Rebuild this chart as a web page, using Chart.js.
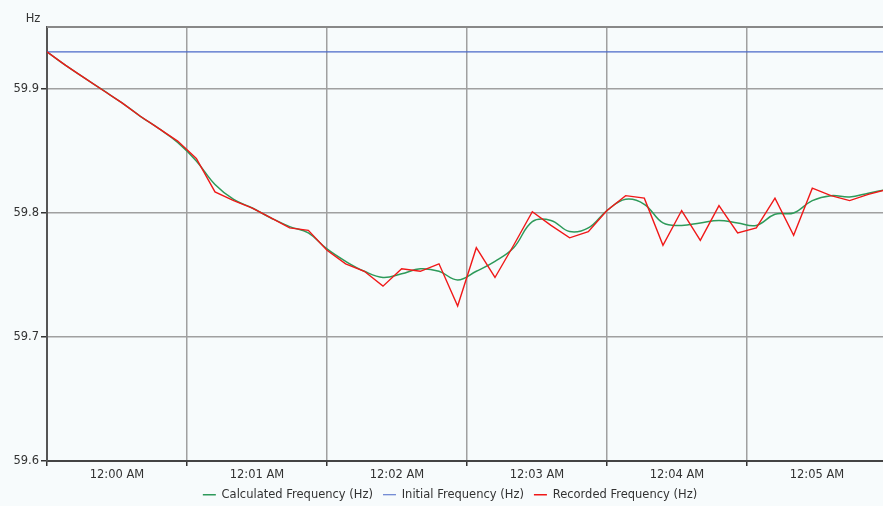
<!DOCTYPE html>
<html>
<head>
<meta charset="utf-8">
<script src="https://cdn.jsdelivr.net/npm/chart.js@4/dist/chart.umd.min.js"></script>
<style>
  html, body { margin: 0; padding: 0; background: #f7fbfc; }
  #wrap { width: 883px; height: 506px; }
</style>
</head>
<body>
<div id="wrap"><canvas id="c" width="883" height="506"></canvas></div>
<script>
// ---- data ----
const seconds = [0, 8, 16, 24, 32, 40, 48, 56, 64, 72, 80, 88, 96, 104, 112, 120,
  128, 136, 144, 152, 160, 168, 176, 184, 192, 200, 208, 216, 224, 232, 240,
  248, 256, 264, 272, 280, 288, 296, 304, 312, 320, 328, 336, 344, 352, 360];

const calculatedHz = [59.930, 59.919, 59.909, 59.899, 59.889, 59.878, 59.868, 59.857,
  59.842, 59.823, 59.811, 59.804, 59.796, 59.789, 59.784, 59.771,
  59.761, 59.753, 59.748, 59.751, 59.755, 59.753, 59.746, 59.753,
  59.761, 59.772, 59.793, 59.794, 59.785, 59.788, 59.802,
  59.811, 59.807, 59.792, 59.790, 59.792, 59.794, 59.792, 59.790,
  59.799, 59.800, 59.810, 59.814, 59.813, 59.816, 59.819];

const recordedHz = [59.930, 59.919, 59.909, 59.899, 59.889, 59.878, 59.868, 59.858,
  59.844, 59.817, 59.810, 59.804, 59.796, 59.788, 59.786, 59.770,
  59.759, 59.753, 59.741, 59.755, 59.753, 59.759, 59.725, 59.772,
  59.748, 59.774, 59.801, 59.790, 59.780, 59.785, 59.802,
  59.814, 59.812, 59.774, 59.802, 59.778, 59.806, 59.784, 59.788,
  59.812, 59.782, 59.820, 59.814, 59.810, 59.815, 59.819];

const initialSeconds = [0, 360];
const initialHz = [59.93, 59.93];

const xTickSeconds = [0, 60, 120, 180, 240, 300];
const xTickLabels = ['12:00 AM', '12:01 AM', '12:02 AM', '12:03 AM', '12:04 AM', '12:05 AM'];
const yTicks = [59.6, 59.7, 59.8, 59.9];
const yMin = 59.6, yMax = 59.95;
const xMin = 0, xMax = 358.3;
const unitLabel = 'Hz';

const seriesNames = ['Calculated Frequency (Hz)', 'Initial Frequency (Hz)', 'Recorded Frequency (Hz)'];

// ---- chart ----
Chart.defaults.font.family = "'DejaVu Sans', Verdana, sans-serif";
Chart.defaults.font.size = 11.5;
Chart.defaults.color = '#333';

const pts = (xs, ys) => xs.map((x, i) => ({ x: x, y: ys[i] }));

const bgPlugin = {
  id: 'bg',
  afterLayout(chart) {
    if (chart.legend) { chart.legend.left += 17; }
  },
  beforeDraw(chart) {
    const ctx = chart.ctx;
    ctx.save();
    ctx.fillStyle = '#f7fbfc';
    ctx.fillRect(0, 0, chart.width, chart.height);
    ctx.restore();
  },
  beforeDatasetsDraw(chart) {
    const ctx = chart.ctx, a = chart.chartArea;
    ctx.save();
    ctx.strokeStyle = '#888';
    ctx.lineWidth = 2;
    ctx.beginPath();
    ctx.moveTo(a.left, a.top);
    ctx.lineTo(a.right, a.top);
    ctx.stroke();
    ctx.fillStyle = '#333';
    ctx.font = "11.5px 'DejaVu Sans', Verdana, sans-serif";
    ctx.textAlign = 'center';
    ctx.textBaseline = 'middle';
    ctx.fillText(unitLabel, 33, 19);
    ctx.restore();
  }
};

new Chart(document.getElementById('c'), {
  type: 'line',
  data: {
    datasets: [
      {
        label: seriesNames[0],
        data: pts(seconds, calculatedHz),
        borderColor: '#2e9a5a',
        backgroundColor: '#2e9a5a',
        borderWidth: 1.5,
        pointRadius: 0,
        tension: 0.4,
        order: 2
      },
      {
        label: seriesNames[1],
        data: pts(initialSeconds, initialHz),
        borderColor: '#4a68c8',
        backgroundColor: '#4a68c8',
        borderWidth: 1.2,
        pointRadius: 0,
        tension: 0,
        order: 1
      },
      {
        label: seriesNames[2],
        data: pts(seconds, recordedHz),
        borderColor: '#f01818',
        backgroundColor: '#f01818',
        borderWidth: 1.4,
        pointRadius: 0,
        tension: 0,
        order: 0
      }
    ]
  },
  options: {
    responsive: false,
    animation: false,
    devicePixelRatio: 1,
    layout: { padding: { top: 27, left: 0, right: 0, bottom: -4.5 } },
    plugins: {
      tooltip: { enabled: false },
      legend: {
        position: 'bottom',
        labels: {
          usePointStyle: true,
          pointStyle: 'line',
          pointStyleWidth: 13,
          boxHeight: 8,
          padding: 10,
          color: '#333',
          font: { size: 11.5 },
          sort: (a, b) => a.datasetIndex - b.datasetIndex
        }
      }
    },
    scales: {
      x: {
        type: 'linear',
        min: xMin,
        max: xMax,
        afterBuildTicks: (s) => { s.ticks = xTickSeconds.map(v => ({ value: v })); },
        afterFit: (s) => { s.height = 18; },
        ticks: {
          autoSkip: false,
          maxRotation: 0,
          labelOffset: 70,
          padding: 2,
          color: '#333',
          callback: (v, i) => xTickLabels[i]
        },
        grid: {
          color: '#a0a0a0',
          lineWidth: 1.5,
          tickLength: 5,
          tickColor: '#333'
        },
        border: { color: '#444', width: 2 }
      },
      y: {
        type: 'linear',
        min: yMin,
        max: yMax,
        afterBuildTicks: (s) => { s.ticks = yTicks.map(v => ({ value: v })); },
        afterFit: (s) => { s.width = 47; },
        ticks: {
          padding: 2,
          color: '#333',
          callback: (v) => v.toFixed(1)
        },
        grid: {
          color: '#a0a0a0',
          lineWidth: 1.5,
          tickLength: 6,
          tickColor: '#333'
        },
        border: { color: '#555', width: 2 }
      }
    }
  },
  plugins: [bgPlugin]
});
</script>
</body>
</html>
